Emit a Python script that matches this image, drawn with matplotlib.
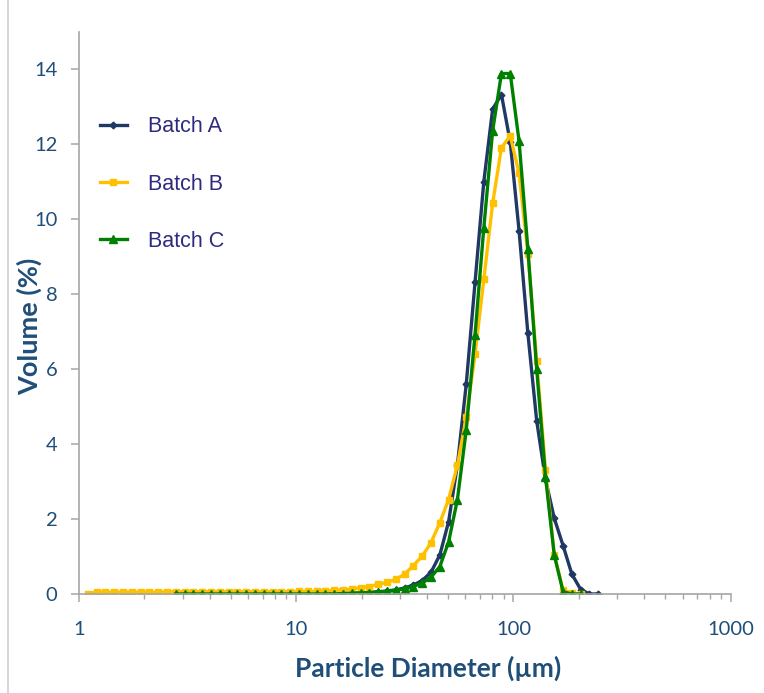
import matplotlib
matplotlib.use("Agg")
import matplotlib.pyplot as plt
from matplotlib.lines import Line2D

# Particle size channel midpoints (µm)
sizes = [1.097, 1.204, 1.322, 1.451, 1.593, 1.749, 1.920, 2.107, 2.313, 2.540,
         2.788, 3.061, 3.360, 3.689, 4.049, 4.445, 4.880, 5.357, 5.881, 6.456,
         7.088, 7.781, 8.542, 9.377, 10.29, 11.30, 12.40, 13.62, 14.95, 16.41,
         18.02, 19.78, 21.71, 23.84, 26.17, 28.73, 31.54, 34.62, 38.01, 41.73,
         45.81, 50.29, 55.21, 60.61, 66.54, 73.04, 80.19, 88.03, 96.64, 106.1,
         116.5, 127.9, 140.4, 154.1, 169.2, 185.7, 203.9, 223.8, 245.7]

# Batch A: channels 10..58
batch_a = [0.0, 0.0, 0.0, 0.0, 0.0, 0.0, 0.0, 0.0, 0.0, 0.0,
           0.0, 0.0, 0.0, 0.0, 0.0, 0.01, 0.01, 0.01, 0.01, 0.01,
           0.02, 0.03, 0.04, 0.06, 0.08, 0.11, 0.16, 0.24, 0.36, 0.58,
           1.04, 1.93, 3.45, 5.59, 8.31, 11.0, 12.93, 13.32, 12.05, 9.69,
           6.95, 4.62, 3.06, 2.02, 1.29, 0.53, 0.12, 0.0, 0.0]

# Batch B: channels 0..56
batch_b = [0.01, 0.05, 0.05, 0.05, 0.05, 0.05, 0.05, 0.05, 0.05, 0.06,
           0.06, 0.06, 0.06, 0.06, 0.06, 0.06, 0.06, 0.06, 0.06, 0.06,
           0.06, 0.06, 0.06, 0.06, 0.07, 0.07, 0.07, 0.08, 0.10, 0.11,
           0.13, 0.17, 0.20, 0.26, 0.31, 0.39, 0.53, 0.76, 1.01, 1.37,
           1.90, 2.52, 3.44, 4.71, 6.39, 8.39, 10.42, 11.90, 12.22, 11.22,
           9.08, 6.22, 3.31, 1.05, 0.10, 0.02, 0.0]

# Batch C: channels 10..56
batch_c = [0.0, 0.0, 0.0, 0.0, 0.0, 0.0, 0.0, 0.0, 0.0, 0.0,
           0.0, 0.0, 0.0, 0.0, 0.0, 0.0, 0.0, 0.0, 0.0, 0.01,
           0.02, 0.03, 0.04, 0.05, 0.07, 0.10, 0.14, 0.20, 0.30, 0.45,
           0.73, 1.39, 2.52, 4.37, 6.91, 9.77, 12.35, 13.88, 13.88, 12.08,
           9.20, 6.00, 3.13, 1.04, 0.06, 0.0, 0.0]

x_a = sizes[10:10 + len(batch_a)]
x_b = sizes[0:len(batch_b)]
x_c = sizes[10:10 + len(batch_c)]

labels = ["Batch A", "Batch B", "Batch C"]
colors = ["#1F3864", "#FFC000", "#008000"]
yticks = [0, 2, 4, 6, 8, 10, 12, 14]
xticks = [1, 10, 100, 1000]
xticklabels = ["1", "10", "100", "1000"]

tick_color = "#1F4E79"
title_color = "#1F4E79"
legend_color = "#2E2A80"
spine_color = "#A6A6A6"

fig = plt.figure(figsize=(7.64, 6.93), dpi=100)
ax = fig.add_axes([79 / 764, 99 / 693, (730.7 - 79) / 764, (594 - 31.5) / 693])

ax.plot(x_a, batch_a, color=colors[0], lw=2.4, marker="D", ms=3.4, label=labels[0])
ax.plot(x_b, batch_b, color=colors[1], lw=2.4, marker="s", ms=4.6, label=labels[1])
ax.plot(x_c, batch_c, color=colors[2], lw=2.4, marker="^", ms=5.2, label=labels[2])

ax.set_xscale("log")
ax.set_xlim(1, 1000)
ax.set_ylim(0, 15)
ax.set_yticks(yticks)

for s in ["top", "right"]:
    ax.spines[s].set_visible(False)
for s in ["left", "bottom"]:
    ax.spines[s].set_color(spine_color)
    ax.spines[s].set_linewidth(1.2)

ax.tick_params(axis="both", which="major", colors=spine_color, length=5.5, width=1.1,
               labelcolor=tick_color, labelsize=14.5)
ax.tick_params(axis="x", which="minor", colors=spine_color, length=3.6, width=1.0)
ax.set_xticks(xticks)
ax.set_xticklabels(xticklabels)
for lab in ax.get_xticklabels() + ax.get_yticklabels():
    lab.set_fontfamily("Lato")
ax.tick_params(axis="x", which="major", pad=14)
ax.tick_params(axis="y", which="major", pad=10)

ax.set_xlabel("Particle Diameter (µm)", fontsize=19, fontweight="bold",
              color=title_color, fontfamily="Lato")
ax.set_ylabel("Volume (%)", fontsize=19.5, fontweight="bold",
              color=title_color, fontfamily="Lato")
ax.xaxis.set_label_coords(0.536, -0.109)
ax.yaxis.set_label_coords(-0.056, 0.475)

leg = ax.legend(loc="upper left", bbox_to_anchor=(0.032, 0.849), frameon=False,
                borderaxespad=0, borderpad=0,
                labelspacing=1.68, handlelength=1.25, handletextpad=1.0,
                prop={"family": "Liberation Sans", "size": 15.5})
for t in leg.get_texts():
    t.set_color(legend_color)

fig.add_artist(Line2D([8 / 764, 8 / 764], [0, 1], color="#D0D0D0", lw=1.2,
                      transform=fig.transFigure))

fig.savefig("out.png", dpi=100)
